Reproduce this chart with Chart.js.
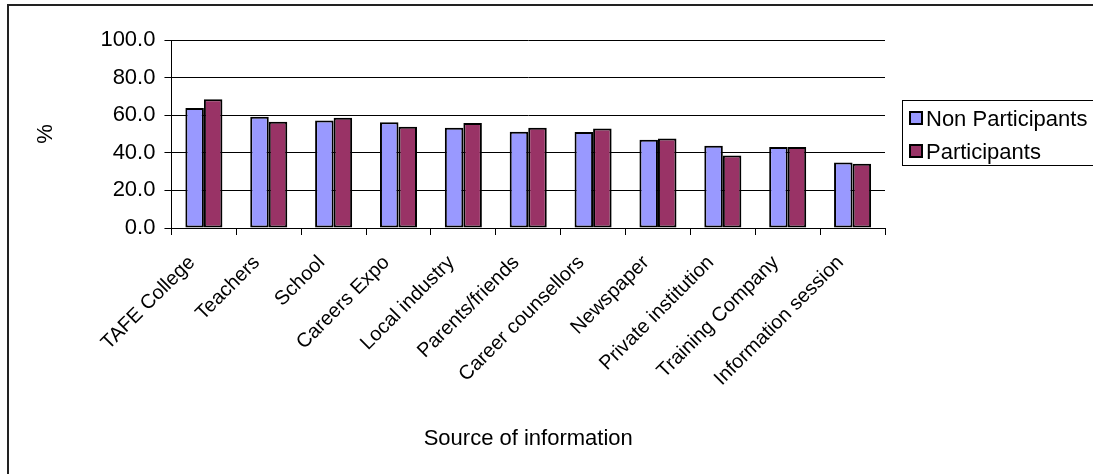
<!DOCTYPE html>
<html>
<head>
<meta charset="utf-8">
<script src="https://cdn.jsdelivr.net/npm/chart.js@4.4.1/dist/chart.umd.min.js"></script>
<style>
  body { margin: 0; background: #fff; }
  #wrap { position: relative; width: 1093px; height: 474px; overflow: hidden; background: #fff; }
  #frame { position: absolute; left: 7px; top: 4px; width: 1200px; height: 600px;
           border-left: 2px solid #222; border-top: 2px solid #222; }
  #chart { position: absolute; left: 0; top: 0; }
  #legend { position: absolute; left: 902px; top: 100px; width: 220px; height: 64px;
            border: 1px solid #000; font: 22px "Liberation Sans", Arial, sans-serif; color: #000; }
  .item { position: absolute; left: 6px; height: 26px; line-height: 26px; white-space: nowrap; }
  .swatch { display: inline-block; width: 10px; height: 10px; border: 2px solid #000;
            vertical-align: middle; margin-right: 3px; position: relative; top: -2px; }
</style>
</head>
<body>
<div id="wrap">
  <div id="frame"></div>
  <canvas id="chart" width="1093" height="474"></canvas>
  <div id="legend"></div>
</div>
<script>
const categories = ['TAFE College', 'Teachers', 'School', 'Careers Expo', 'Local industry',
  'Parents/friends', 'Career counsellors', 'Newspaper', 'Private institution',
  'Training Company', 'Information session'];
const nonParticipants = [63.8, 59.2, 57.2, 56.2, 53.3, 51.2, 51.0, 47.0, 43.7, 43.1, 34.9];
const participants = [68.5, 56.5, 58.7, 53.8, 55.8, 53.3, 52.9, 47.6, 38.6, 43.1, 34.2];
const yTicks = [0, 20, 40, 60, 80, 100];

Chart.defaults.font.family = '"Liberation Sans", Arial, sans-serif';
Chart.defaults.font.size = 22;
Chart.defaults.color = '#000';

const ctx = document.getElementById('chart').getContext('2d');
const chart = new Chart(ctx, {
  type: 'bar',
  data: {
    labels: categories,
    datasets: [
      { label: 'Non Participants', data: nonParticipants, backgroundColor: '#9999FF',
        borderColor: '#000', borderWidth: 2, borderSkipped: false,
        barPercentage: 1, categoryPercentage: 0.571 },
      { label: 'Participants', data: participants, backgroundColor: '#993366',
        borderColor: '#000', borderWidth: 2, borderSkipped: false,
        barPercentage: 1, categoryPercentage: 0.571 }
    ]
  },
  options: {
    responsive: false,
    animation: false,
    layout: { padding: { left: 28, top: 40, right: 208, bottom: 22 } },
    plugins: {
      legend: { display: false },
      tooltip: { enabled: false },
      // x axis title as a bottom box, so the axis height cap does not squeeze it
      title: {
        display: true, text: 'Source of information', position: 'bottom', fullSize: false,
        color: '#000', font: { size: 22, weight: 'normal' }, padding: { top: 19, bottom: 0 }
      }
    },
    scales: {
      x: {
        grid: { drawOnChartArea: false, offset: true, color: '#000', tickLength: 7 },
        border: { color: '#000', width: 1 },
        ticks: { minRotation: 45, maxRotation: 45, padding: 16, labelOffset: -12,
                 autoSkip: false, font: { size: 20 } }
      },
      y: {
        min: yTicks[0],
        max: yTicks[yTicks.length - 1],
        afterBuildTicks: axis => { axis.ticks = yTicks.map(v => ({ value: v })); },
        ticks: { padding: 9, callback: v => Number(v).toFixed(1) },
        grid: { color: '#000', tickLength: 7 },
        border: { color: '#000', width: 1 },
        title: { display: true, text: '%', padding: { top: 5, bottom: 32 } }
      }
    }
  }
});

// legend from the chart's datasets
const legend = document.getElementById('legend');
chart.data.datasets.forEach((ds, i) => {
  const item = document.createElement('div');
  item.className = 'item';
  item.style.top = (5 + i * 33) + 'px';
  item.innerHTML = '<span class="swatch" style="background:' + ds.backgroundColor + '"></span>' + ds.label;
  legend.appendChild(item);
});
</script>
</body>
</html>
